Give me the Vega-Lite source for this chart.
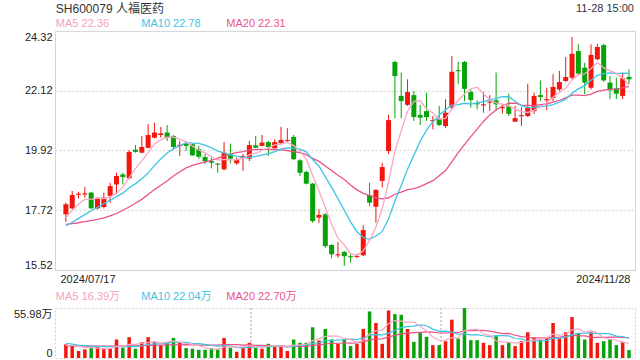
{
"$schema": "https://vega.github.io/schema/vega-lite/v6.json",
"background": "white",
"padding": {"left": 0, "top": 0, "right": 4, "bottom": 0},
"spacing": 0,
"config": {"font": "Liberation Sans, Noto Sans CJK SC", "view": {"stroke": null}},
"datasets": {"k": [
{"i":0,"o":17.57,"h":18.00,"l":17.29,"c":17.94,"v":15.2,"m5":17.45,"m10":17.15,"m20":17.20,"vm5":14.5,"vm10":16.5,"vm20":13.8},
{"i":1,"o":17.79,"h":18.43,"l":17.75,"c":18.28,"v":14.4,"m5":17.72,"m10":17.28,"m20":17.23,"vm5":14.0,"vm10":15.5,"vm20":13.6},
{"i":2,"o":18.29,"h":18.40,"l":18.16,"c":18.33,"v":7.8,"m5":17.94,"m10":17.42,"m20":17.26,"vm5":13.0,"vm10":14.5,"vm20":13.4},
{"i":3,"o":18.30,"h":18.58,"l":18.18,"c":18.34,"v":9.6,"m5":18.12,"m10":17.56,"m20":17.30,"vm5":12.0,"vm10":13.8,"vm20":13.3},
{"i":4,"o":18.37,"h":18.40,"l":17.76,"c":17.79,"v":11.1,"m5":18.13,"m10":17.70,"m20":17.34,"vm5":11.6,"vm10":13.3,"vm20":13.2},
{"i":5,"o":17.79,"h":18.21,"l":17.75,"c":18.14,"v":12.2,"m5":18.17,"m10":17.83,"m20":17.38,"vm5":11.0,"vm10":13.0,"vm20":13.2},
{"i":6,"o":17.84,"h":18.37,"l":17.79,"c":18.18,"v":10.4,"m5":18.15,"m10":17.97,"m20":17.44,"vm5":10.2,"vm10":12.8,"vm20":13.2},
{"i":7,"o":18.25,"h":18.73,"l":18.00,"c":18.61,"v":10.4,"m5":18.21,"m10":18.09,"m20":17.51,"vm5":10.7,"vm10":12.6,"vm20":13.3},
{"i":8,"o":18.67,"h":19.10,"l":18.31,"c":18.98,"v":20.7,"m5":18.34,"m10":18.22,"m20":17.60,"vm5":13.0,"vm10":12.8,"vm20":13.4},
{"i":9,"o":19.04,"h":19.10,"l":18.67,"c":18.94,"v":11.5,"m5":18.57,"m10":18.35,"m20":17.72,"vm5":13.0,"vm10":12.3,"vm20":13.5},
{"i":10,"o":18.90,"h":19.93,"l":18.86,"c":19.87,"v":23.3,"m5":18.92,"m10":18.55,"m20":17.84,"vm5":15.3,"vm10":13.1,"vm20":13.6},
{"i":11,"o":19.95,"h":20.12,"l":19.84,"c":19.87,"v":10.4,"m5":19.25,"m10":18.70,"m20":17.98,"vm5":15.3,"vm10":12.7,"vm20":13.7},
{"i":12,"o":19.84,"h":20.45,"l":19.82,"c":20.05,"v":17.7,"m5":19.54,"m10":18.88,"m20":18.12,"vm5":16.7,"vm10":13.7,"vm20":13.9},
{"i":13,"o":20.02,"h":20.89,"l":20.00,"c":20.49,"v":23.3,"m5":19.84,"m10":19.09,"m20":18.30,"vm5":17.2,"vm10":15.1,"vm20":14.1},
{"i":14,"o":20.39,"h":20.94,"l":20.37,"c":20.58,"v":17.7,"m5":20.17,"m10":19.37,"m20":18.48,"vm5":18.5,"vm10":15.8,"vm20":14.3},
{"i":15,"o":20.49,"h":20.79,"l":20.39,"c":20.55,"v":14.4,"m5":20.31,"m10":19.61,"m20":18.64,"vm5":16.7,"vm10":16.0,"vm20":14.5},
{"i":16,"o":20.58,"h":20.86,"l":20.27,"c":20.39,"v":17.0,"m5":20.41,"m10":19.83,"m20":18.80,"vm5":18.0,"vm10":16.6,"vm20":14.6},
{"i":17,"o":20.45,"h":20.49,"l":19.96,"c":20.05,"v":22.5,"m5":20.41,"m10":19.98,"m20":18.98,"vm5":19.0,"vm10":17.9,"vm20":14.8},
{"i":18,"o":20.09,"h":20.27,"l":19.72,"c":20.13,"v":17.0,"m5":20.34,"m10":20.09,"m20":19.14,"vm5":17.7,"vm10":17.5,"vm20":14.8},
{"i":19,"o":20.17,"h":20.24,"l":19.90,"c":20.09,"v":11.1,"m5":20.24,"m10":20.21,"m20":19.28,"vm5":16.4,"vm10":17.4,"vm20":14.9},
{"i":20,"o":20.15,"h":20.17,"l":19.72,"c":19.74,"v":10.4,"m5":20.08,"m10":20.19,"m20":19.37,"vm5":15.6,"vm10":16.2,"vm20":14.6},
{"i":21,"o":19.97,"h":20.09,"l":19.61,"c":19.69,"v":9.2,"m5":19.94,"m10":20.18,"m20":19.44,"vm5":14.0,"vm10":16.0,"vm20":14.4},
{"i":22,"o":19.68,"h":19.79,"l":19.42,"c":19.53,"v":9.2,"m5":19.83,"m10":20.12,"m20":19.50,"vm5":11.4,"vm10":15.2,"vm20":14.5},
{"i":23,"o":19.53,"h":19.66,"l":19.26,"c":19.47,"v":11.1,"m5":19.70,"m10":20.02,"m20":19.56,"vm5":10.2,"vm10":14.0,"vm20":14.5},
{"i":24,"o":19.44,"h":19.46,"l":19.10,"c":19.40,"v":9.6,"m5":19.57,"m10":19.90,"m20":19.64,"vm5":9.9,"vm10":13.2,"vm20":14.5},
{"i":25,"o":19.23,"h":20.23,"l":19.19,"c":19.84,"v":22.5,"m5":19.59,"m10":19.83,"m20":19.72,"vm5":12.3,"vm10":14.0,"vm20":15.0},
{"i":26,"o":19.78,"h":20.17,"l":19.44,"c":19.62,"v":11.5,"m5":19.57,"m10":19.76,"m20":19.79,"vm5":12.8,"vm10":13.4,"vm20":15.0},
{"i":27,"o":19.45,"h":19.66,"l":19.39,"c":19.57,"v":7.0,"m5":19.58,"m10":19.71,"m20":19.84,"vm5":12.3,"vm10":11.9,"vm20":14.9},
{"i":28,"o":19.64,"h":19.79,"l":19.17,"c":19.72,"v":11.5,"m5":19.63,"m10":19.67,"m20":19.88,"vm5":12.4,"vm10":11.3,"vm20":14.4},
{"i":29,"o":19.62,"h":20.27,"l":19.53,"c":20.12,"v":17.0,"m5":19.77,"m10":19.67,"m20":19.94,"vm5":13.9,"vm10":11.9,"vm20":14.7},
{"i":30,"o":20.11,"h":20.45,"l":20.00,"c":20.02,"v":12.2,"m5":19.81,"m10":19.70,"m20":19.95,"vm5":11.8,"vm10":12.1,"vm20":14.1},
{"i":31,"o":20.09,"h":20.49,"l":20.07,"c":20.21,"v":10.4,"m5":19.93,"m10":19.75,"m20":19.96,"vm5":11.6,"vm10":12.2,"vm20":14.1},
{"i":32,"o":20.23,"h":20.27,"l":19.72,"c":20.05,"v":15.9,"m5":20.02,"m10":19.80,"m20":19.96,"vm5":13.4,"vm10":12.9,"vm20":14.0},
{"i":33,"o":20.00,"h":20.33,"l":19.99,"c":20.23,"v":13.3,"m5":20.13,"m10":19.88,"m20":19.95,"vm5":13.8,"vm10":13.1,"vm20":13.5},
{"i":34,"o":20.19,"h":20.79,"l":20.15,"c":20.31,"v":14.4,"m5":20.16,"m10":19.97,"m20":19.94,"vm5":13.2,"vm10":13.6,"vm20":13.4},
{"i":35,"o":20.27,"h":20.74,"l":20.24,"c":20.31,"v":7.8,"m5":20.22,"m10":20.02,"m20":19.92,"vm5":12.4,"vm10":12.1,"vm20":13.0},
{"i":36,"o":20.42,"h":20.49,"l":19.56,"c":19.60,"v":20.7,"m5":20.10,"m10":20.01,"m20":19.88,"vm5":14.4,"vm10":13.0,"vm20":13.2},
{"i":37,"o":19.56,"h":19.60,"l":18.98,"c":19.10,"v":17.0,"m5":19.91,"m10":19.97,"m20":19.84,"vm5":14.6,"vm10":14.0,"vm20":12.9},
{"i":38,"o":19.13,"h":19.17,"l":18.67,"c":18.70,"v":17.0,"m5":19.60,"m10":19.87,"m20":19.77,"vm5":15.4,"vm10":14.6,"vm20":12.9},
{"i":39,"o":18.70,"h":18.73,"l":17.26,"c":17.32,"v":34.4,"m5":19.01,"m10":19.59,"m20":19.63,"vm5":19.4,"vm10":16.3,"vm20":14.1},
{"i":40,"o":17.45,"h":17.76,"l":17.26,"c":17.55,"v":19.6,"m5":18.45,"m10":19.34,"m20":19.52,"vm5":21.7,"vm10":17.1,"vm20":14.6},
{"i":41,"o":17.57,"h":17.62,"l":16.34,"c":16.40,"v":32.5,"m5":17.81,"m10":18.96,"m20":19.35,"vm5":24.1,"vm10":19.3,"vm20":15.7},
{"i":42,"o":16.44,"h":16.47,"l":15.95,"c":16.10,"v":20.7,"m5":17.21,"m10":18.56,"m20":19.18,"vm5":24.8,"vm10":19.7,"vm20":16.3},
{"i":43,"o":16.06,"h":16.55,"l":15.97,"c":16.10,"v":15.9,"m5":16.69,"m10":18.15,"m20":19.01,"vm5":24.6,"vm10":20.0,"vm20":16.5},
{"i":44,"o":16.19,"h":16.22,"l":15.67,"c":16.03,"v":20.7,"m5":16.44,"m10":17.72,"m20":18.85,"vm5":21.9,"vm10":20.6,"vm20":17.1},
{"i":45,"o":16.03,"h":16.10,"l":15.79,"c":15.99,"v":13.3,"m5":16.12,"m10":17.29,"m20":18.65,"vm5":20.6,"vm10":21.2,"vm20":16.6},
{"i":46,"o":16.00,"h":16.12,"l":15.95,"c":16.04,"v":15.9,"m5":16.05,"m10":16.93,"m20":18.47,"vm5":17.3,"vm10":20.7,"vm20":16.9},
{"i":47,"o":16.06,"h":17.18,"l":16.03,"c":16.99,"v":32.5,"m5":16.23,"m10":16.72,"m20":18.34,"vm5":19.7,"vm10":22.3,"vm20":18.1},
{"i":48,"o":18.28,"h":18.73,"l":17.87,"c":18.00,"v":52.1,"m5":16.61,"m10":16.65,"m20":18.26,"vm5":26.9,"vm10":25.8,"vm20":20.2},
{"i":49,"o":17.85,"h":18.49,"l":17.26,"c":18.47,"v":39.2,"m5":17.10,"m10":16.77,"m20":18.18,"vm5":30.6,"vm10":26.2,"vm20":21.3},
{"i":50,"o":18.80,"h":19.47,"l":18.55,"c":19.31,"v":15.9,"m5":17.76,"m10":16.94,"m20":18.14,"vm5":31.1,"vm10":25.9,"vm20":21.5},
{"i":51,"o":19.90,"h":21.23,"l":19.78,"c":21.04,"v":53.2,"m5":18.76,"m10":17.41,"m20":18.18,"vm5":38.6,"vm10":27.9,"vm20":23.6},
{"i":52,"o":23.18,"h":23.22,"l":21.11,"c":22.66,"v":49.1,"m5":19.90,"m10":18.06,"m20":18.31,"vm5":41.9,"vm10":30.8,"vm20":25.3},
{"i":53,"o":21.93,"h":22.79,"l":21.11,"c":21.74,"v":48.4,"m5":20.64,"m10":18.63,"m20":18.39,"vm5":41.2,"vm10":34.0,"vm20":27.0},
{"i":54,"o":21.60,"h":22.54,"l":21.56,"c":22.07,"v":32.5,"m5":21.36,"m10":19.23,"m20":18.48,"vm5":39.8,"vm10":35.2,"vm20":27.9},
{"i":55,"o":21.96,"h":22.11,"l":21.01,"c":21.15,"v":18.1,"m5":21.73,"m10":19.75,"m20":18.52,"vm5":40.3,"vm10":35.7,"vm20":28.4},
{"i":56,"o":21.23,"h":21.60,"l":20.86,"c":21.13,"v":28.8,"m5":21.75,"m10":20.26,"m20":18.59,"vm5":35.4,"vm10":37.0,"vm20":28.8},
{"i":57,"o":21.37,"h":22.05,"l":21.01,"c":21.15,"v":23.7,"m5":21.45,"m10":20.67,"m20":18.70,"vm5":30.3,"vm10":36.1,"vm20":29.2},
{"i":58,"o":21.00,"h":21.19,"l":20.70,"c":21.04,"v":14.4,"m5":21.31,"m10":20.98,"m20":18.81,"vm5":23.5,"vm10":32.3,"vm20":29.0},
{"i":59,"o":21.09,"h":21.56,"l":20.82,"c":20.86,"v":14.4,"m5":21.07,"m10":21.22,"m20":18.99,"vm5":19.9,"vm10":29.9,"vm20":28.0},
{"i":60,"o":20.82,"h":21.81,"l":20.74,"c":21.31,"v":18.8,"m5":21.10,"m10":21.42,"m20":19.18,"vm5":20.0,"vm10":30.1,"vm20":28.0},
{"i":61,"o":21.50,"h":23.40,"l":21.44,"c":22.82,"v":42.9,"m5":21.44,"m10":21.59,"m20":19.50,"vm5":22.8,"vm10":29.1,"vm20":28.5},
{"i":62,"o":22.88,"h":23.19,"l":22.36,"c":22.84,"v":21.8,"m5":21.77,"m10":21.61,"m20":19.84,"vm5":22.5,"vm10":26.4,"vm20":28.6},
{"i":63,"o":23.18,"h":23.22,"l":21.74,"c":22.19,"v":55.98,"m5":22.00,"m10":21.66,"m20":20.14,"vm5":30.8,"vm10":27.1,"vm20":30.6},
{"i":64,"o":22.07,"h":22.17,"l":21.50,"c":21.78,"v":20.0,"m5":22.19,"m10":21.63,"m20":20.43,"vm5":31.9,"vm10":25.9,"vm20":30.5},
{"i":65,"o":21.66,"h":21.77,"l":21.44,"c":21.62,"v":20.0,"m5":22.25,"m10":21.67,"m20":20.71,"vm5":32.1,"vm10":26.1,"vm20":30.9},
{"i":66,"o":21.58,"h":22.07,"l":21.31,"c":21.62,"v":17.0,"m5":22.01,"m10":21.72,"m20":20.99,"vm5":27.0,"vm10":24.9,"vm20":30.9},
{"i":67,"o":21.68,"h":21.96,"l":21.37,"c":21.72,"v":14.4,"m5":21.79,"m10":21.78,"m20":21.23,"vm5":25.5,"vm10":24.0,"vm20":30.0},
{"i":68,"o":21.77,"h":22.79,"l":21.40,"c":21.62,"v":24.4,"m5":21.67,"m10":21.84,"m20":21.41,"vm5":19.2,"vm10":25.0,"vm20":28.6},
{"i":69,"o":21.48,"h":21.64,"l":21.28,"c":21.52,"v":14.4,"m5":21.62,"m10":21.90,"m20":21.56,"vm5":18.0,"vm10":25.0,"vm20":27.4},
{"i":70,"o":21.56,"h":22.01,"l":21.19,"c":21.27,"v":17.0,"m5":21.55,"m10":21.90,"m20":21.66,"vm5":17.4,"vm10":24.8,"vm20":27.5},
{"i":71,"o":20.98,"h":21.56,"l":20.98,"c":21.11,"v":13.3,"m5":21.45,"m10":21.73,"m20":21.66,"vm5":16.7,"vm10":21.8,"vm20":25.5},
{"i":72,"o":21.18,"h":21.52,"l":20.82,"c":21.22,"v":18.8,"m5":21.35,"m10":21.57,"m20":21.59,"vm5":17.6,"vm10":21.5,"vm20":24.0},
{"i":73,"o":21.19,"h":22.38,"l":21.15,"c":21.50,"v":28.8,"m5":21.32,"m10":21.50,"m20":21.58,"vm5":18.5,"vm10":18.8,"vm20":23.0},
{"i":74,"o":21.37,"h":22.05,"l":21.27,"c":21.93,"v":22.5,"m5":21.41,"m10":21.51,"m20":21.57,"vm5":20.1,"vm10":19.1,"vm20":22.5},
{"i":75,"o":21.96,"h":22.50,"l":21.74,"c":21.89,"v":20.7,"m5":21.53,"m10":21.54,"m20":21.61,"vm5":20.8,"vm10":19.1,"vm20":22.6},
{"i":76,"o":21.77,"h":22.23,"l":21.40,"c":21.81,"v":22.5,"m5":21.67,"m10":21.56,"m20":21.64,"vm5":22.7,"vm10":19.7,"vm20":22.3},
{"i":77,"o":21.86,"h":22.73,"l":21.74,"c":22.26,"v":39.2,"m5":21.88,"m10":21.61,"m20":21.70,"vm5":26.7,"vm10":22.2,"vm20":23.1},
{"i":78,"o":22.17,"h":22.85,"l":22.11,"c":22.44,"v":21.8,"m5":22.07,"m10":21.70,"m20":21.77,"vm5":25.3,"vm10":21.9,"vm20":23.4},
{"i":79,"o":22.48,"h":23.36,"l":22.45,"c":22.63,"v":28.8,"m5":22.21,"m10":21.81,"m20":21.86,"vm5":26.6,"vm10":23.3,"vm20":24.2},
{"i":80,"o":22.60,"h":24.10,"l":22.54,"c":23.48,"v":45.8,"m5":22.52,"m10":22.03,"m20":21.96,"vm5":31.6,"vm10":26.2,"vm20":25.5},
{"i":81,"o":23.58,"h":23.83,"l":22.73,"c":22.75,"v":28.1,"m5":22.71,"m10":22.19,"m20":21.96,"vm5":32.7,"vm10":27.7,"vm20":24.8},
{"i":82,"o":22.97,"h":23.15,"l":21.99,"c":22.42,"v":20.7,"m5":22.74,"m10":22.31,"m20":21.94,"vm5":29.0,"vm10":27.9,"vm20":24.7},
{"i":83,"o":22.23,"h":23.83,"l":22.17,"c":23.44,"v":28.8,"m5":22.94,"m10":22.51,"m20":22.00,"vm5":30.4,"vm10":27.9,"vm20":23.4},
{"i":84,"o":23.28,"h":23.85,"l":23.24,"c":23.73,"v":17.0,"m5":23.16,"m10":22.69,"m20":22.10,"vm5":28.1,"vm10":27.3,"vm20":23.2},
{"i":85,"o":23.80,"h":23.85,"l":22.45,"c":22.50,"v":18.8,"m5":22.97,"m10":22.75,"m20":22.14,"vm5":22.7,"vm10":27.2,"vm20":23.1},
{"i":86,"o":22.42,"h":22.66,"l":21.81,"c":22.14,"v":20.7,"m5":22.85,"m10":22.78,"m20":22.17,"vm5":21.2,"vm10":27.0,"vm20":23.3},
{"i":87,"o":22.21,"h":22.60,"l":21.81,"c":22.01,"v":14.4,"m5":22.76,"m10":22.75,"m20":22.18,"vm5":19.9,"vm10":24.5,"vm20":23.3},
{"i":88,"o":21.93,"h":22.79,"l":21.81,"c":22.58,"v":18.1,"m5":22.59,"m10":22.77,"m20":22.23,"vm5":17.8,"vm10":24.1,"vm20":23.0},
{"i":89,"o":22.63,"h":22.91,"l":22.36,"c":22.54,"v":8.9,"m5":22.35,"m10":22.76,"m20":22.28,"vm5":16.2,"vm10":22.1,"vm20":22.7}
]},
"vconcat": [
{
"width": 580, "height": 30,
"layer": [
{"data": {"values": [{"t": "SH600079 人福医药"}]},
 "mark": {"type": "text", "align": "left", "baseline": "middle", "fontSize": 12, "color": "#333333"},
 "encoding": {"text": {"field": "t"},
  "x": {"datum": -0.8, "type": "quantitative", "scale": {"domain": [-0.93, 89.16], "nice": false, "zero": false}, "axis": null},
  "y": {"datum": 9, "type": "quantitative", "scale": {"domain": [30, 0], "nice": false, "zero": false}, "axis": null}}},
{"data": {"values": [{"t": "11-28 15:00"}]},
 "mark": {"type": "text", "align": "right", "baseline": "middle", "fontSize": 11, "color": "#333333"},
 "encoding": {"text": {"field": "t"}, "x": {"datum": 89.0, "type": "quantitative"}, "y": {"datum": 9, "type": "quantitative"}}},
{"data": {"values": [{"t": "MA5 22.36"}]},
 "mark": {"type": "text", "align": "left", "baseline": "middle", "fontSize": 11, "color": "#f6a0bd"},
 "encoding": {"text": {"field": "t"}, "x": {"datum": -0.8, "type": "quantitative"}, "y": {"datum": 24, "type": "quantitative"}}},
{"data": {"values": [{"t": "MA10 22.78"}]},
 "mark": {"type": "text", "align": "left", "baseline": "middle", "fontSize": 11, "color": "#3ec4e4"},
 "encoding": {"text": {"field": "t"}, "x": {"datum": 12.47, "type": "quantitative"}, "y": {"datum": 24, "type": "quantitative"}}},
{"data": {"values": [{"t": "MA20 22.31"}]},
 "mark": {"type": "text", "align": "left", "baseline": "middle", "fontSize": 11, "color": "#e8538a"},
 "encoding": {"text": {"field": "t"}, "x": {"datum": 25.68, "type": "quantitative"}, "y": {"datum": 24, "type": "quantitative"}}}
]
},
{
"width": 580, "height": 239,
"view": {"stroke": "#d4d4d4", "strokeWidth": 1},
"data": {"name": "k"},
"encoding": {"x": {"field": "i", "type": "quantitative", "scale": {"domain": [-0.93, 89.16], "nice": false, "zero": false},
  "axis": {"values": [-0.93, 89.16], "labelExpr": "datum.value < 0 ? '2024/07/17' : '2024/11/28'", "labelAlign": {"expr": "datum.value < 0 ? 'left' : 'right'"}, "labelBaseline": "top", "domain": false, "ticks": false, "grid": false, "title": null, "labelFontSize": 11, "labelColor": "#222222", "labelPadding": 3, "minExtent": 14, "maxExtent": 14}}},
"layer": [
{"mark": {"type": "rule", "strokeWidth": 1},
 "encoding": {"y": {"field": "l", "type": "quantitative", "scale": {"domain": [15.52, 24.32], "nice": false, "zero": false},
   "axis": {"values": [15.52, 17.72, 19.92, 22.12, 24.32], "format": ".2f", "labelFlush": true, "grid": true, "gridColor": "#dcdcdc", "gridDash": [2, 2], "gridWidth": 1.5, "domain": false, "ticks": false, "labelPadding": 3, "minExtent": 54, "maxExtent": 54, "labelFontSize": 11, "labelColor": "#222222", "title": null}},
  "y2": {"field": "h"},
  "color": {"condition": {"test": "datum.c >= datum.o", "value": "#f2160c"}, "value": "#0aa20a"}}},
{"mark": {"type": "bar", "width": 5},
 "encoding": {"y": {"field": "o", "type": "quantitative"}, "y2": {"field": "c"},
  "color": {"condition": {"test": "datum.c >= datum.o", "value": "#f2160c"}, "value": "#0aa20a"}}},
{"mark": {"type": "line", "strokeWidth": 1.3, "color": "#e8538a"}, "encoding": {"y": {"field": "m20", "type": "quantitative"}}},
{"mark": {"type": "line", "strokeWidth": 1.3, "color": "#3ec4e4"}, "encoding": {"y": {"field": "m10", "type": "quantitative"}}},
{"mark": {"type": "line", "strokeWidth": 1.3, "color": "#f9a8c4"}, "encoding": {"y": {"field": "m5", "type": "quantitative"}}}
]
},
{
"width": 580, "height": 22,
"layer": [
{"data": {"values": [{"t": "MA5 16.39万"}]},
 "mark": {"type": "text", "align": "left", "baseline": "middle", "fontSize": 11, "color": "#f6a0bd"},
 "encoding": {"text": {"field": "t"},
  "x": {"datum": -0.8, "type": "quantitative", "scale": {"domain": [-0.93, 89.16], "nice": false, "zero": false}, "axis": null},
  "y": {"datum": 12, "type": "quantitative", "scale": {"domain": [22, 0], "nice": false, "zero": false}, "axis": null}}},
{"data": {"values": [{"t": "MA10 22.04万"}]},
 "mark": {"type": "text", "align": "left", "baseline": "middle", "fontSize": 11, "color": "#3ec4e4"},
 "encoding": {"text": {"field": "t"}, "x": {"datum": 12.47, "type": "quantitative"}, "y": {"datum": 12, "type": "quantitative"}}},
{"data": {"values": [{"t": "MA20 22.70万"}]},
 "mark": {"type": "text", "align": "left", "baseline": "middle", "fontSize": 11, "color": "#e8538a"},
 "encoding": {"text": {"field": "t"}, "x": {"datum": 25.68, "type": "quantitative"}, "y": {"datum": 12, "type": "quantitative"}}}
]
},
{
"width": 580, "height": 50,
"view": {"stroke": "#d0d0d0", "strokeDash": [2, 2], "strokeWidth": 1},
"data": {"name": "k"},
"encoding": {"x": {"field": "i", "type": "quantitative", "scale": {"domain": [-0.93, 89.16], "nice": false, "zero": false}, "axis": null}},
"layer": [
{"mark": {"type": "rule", "strokeDash": [2, 2], "color": "#d0d0d0"}, "encoding": {"x": {"datum": 29.25}}},
{"mark": {"type": "rule", "strokeDash": [2, 2], "color": "#d0d0d0"}, "encoding": {"x": {"datum": 59.25}}},
{"mark": {"type": "bar", "width": 3.5},
 "encoding": {"y": {"field": "v", "type": "quantitative", "scale": {"domain": [0, 55.98], "nice": false},
   "axis": {"values": [0, 55.98], "labelExpr": "datum.value == 0 ? '0' : '55.98万'", "labelFlush": true, "grid": false, "domain": false, "ticks": false, "minExtent": 54, "maxExtent": 54, "labelPadding": 3, "labelFontSize": 11, "labelColor": "#222222", "title": null}},
  "color": {"condition": {"test": "datum.c >= datum.o", "value": "#f2160c"}, "value": "#0aa20a"}}},
{"mark": {"type": "line", "strokeWidth": 1.2, "color": "#e8538a"}, "encoding": {"y": {"field": "vm20", "type": "quantitative"}}},
{"mark": {"type": "line", "strokeWidth": 1.2, "color": "#3ec4e4"}, "encoding": {"y": {"field": "vm10", "type": "quantitative"}}},
{"mark": {"type": "line", "strokeWidth": 1.2, "color": "#f9a8c4"}, "encoding": {"y": {"field": "vm5", "type": "quantitative"}}}
]
}
]
}
